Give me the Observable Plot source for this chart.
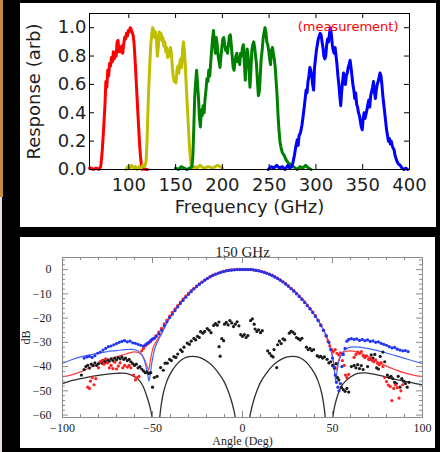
<!DOCTYPE html>
<html>
<head>
<meta charset="utf-8">
<script src="https://cdn.jsdelivr.net/npm/d3@7"></script>
<script src="https://cdn.jsdelivr.net/npm/@observablehq/plot@0.6"></script>
<style>
  html, body { margin: 0; padding: 0; background: #000; width: 440px; height: 452px; overflow: hidden; position: relative; }
  .panel { position: absolute; background: #fff; overflow: hidden; }
  #bands { left: 20px; top: 3px; width: 416px; height: 224px; }
  #beam { left: 20px; top: 237px; width: 415px; height: 211px; }
  #edge { position: absolute; left: 0; top: 0; width: 3px; height: 197px; background: #c88a3e; }
  #edge2 { position: absolute; left: 0; top: 197px; width: 2px; height: 255px; background: #eadede; }
  .panel svg { display: block; }
</style>
</head>
<body>
<div id="edge"></div>
<div id="edge2"></div>
<div class="panel" id="bands"></div>
<div class="panel" id="beam"></div>
<script>
// ---------- Band passes: [frequency GHz, normalised response] ----------
const band90 = [[58,0.01],[60,0.01],[62,0.0],[65,0.01],[68,0.0],[70,0.02],[71.5,0.12],[73,0.28],[74.5,0.45],[75.5,0.62],[76.5,0.58],[77.5,0.70],[78.5,0.66],[79.5,0.75],[80.5,0.73],[81.5,0.79],[82.5,0.76],[83.5,0.83],[84.5,0.78],[85.5,0.82],[86.5,0.80],[87.5,0.90],[88.5,0.91],[89.5,0.83],[90.5,0.86],[91.5,0.83],[92.5,0.87],[93.5,0.82],[94.5,0.88],[95.5,0.93],[96.5,0.92],[97.5,0.96],[98.5,0.94],[99.5,0.98],[100.5,0.97],[101.5,1.0],[102.5,0.99],[103.5,0.97],[104.5,0.95],[105.5,0.90],[106.5,0.80],[107.5,0.68],[108.5,0.55],[109.5,0.42],[110.5,0.30],[111.5,0.18],[112.5,0.09],[113.5,0.03],[114.5,0.0],[116,0.01],[118,0.0],[120,0.0]];
const band150 = [[97,0.0],[99,0.02],[101,0.01],[103,0.03],[105,0.01],[107,0.02],[109,0.0],[111,0.02],[113,0.01],[115,0.03],[117,0.02],[118.5,0.06],[119.5,0.2],[120.5,0.42],[121.5,0.6],[122.5,0.75],[123.5,0.88],[124.5,0.95],[125.5,1.0],[126.5,0.98],[127.5,0.93],[128.5,0.97],[129.5,0.92],[130.5,0.80],[131.5,0.86],[132.5,0.97],[133.5,0.92],[134.5,0.96],[135.5,0.91],[136.5,0.93],[137.5,0.87],[138.5,0.90],[139.5,0.83],[140.5,0.86],[141.5,0.79],[142.5,0.84],[143.5,0.80],[144.5,0.86],[145.5,0.82],[146.5,0.72],[147.5,0.66],[148.5,0.62],[149.5,0.64],[150.5,0.61],[151.5,0.70],[152.5,0.73],[153.5,0.68],[154.5,0.75],[155.5,0.78],[156.5,0.72],[157.5,0.85],[158.5,0.90],[159.5,0.83],[160.5,0.72],[161.5,0.58],[162.5,0.45],[163.5,0.33],[164.5,0.20],[165.5,0.10],[166.5,0.04],[167.5,0.01],[170,0.02],[173,0.01],[176,0.03],[180,0.01],[185,0.02],[190,0.01],[195,0.03],[200,0.01]];
const band220 = [[150,0.01],[153,0.0],[156,0.02],[159,0.01],[162,0.0],[165,0.01],[167.5,0.02],[168.5,0.1],[169.5,0.3],[170.5,0.52],[171.5,0.62],[172.5,0.70],[173.5,0.60],[174.5,0.50],[175.5,0.36],[176.5,0.30],[177.5,0.42],[178.5,0.38],[179.5,0.45],[180.5,0.40],[181.5,0.50],[182.5,0.56],[183.5,0.64],[184.5,0.62],[185.5,0.70],[186.5,0.66],[187.5,0.75],[188.5,0.84],[189.5,0.92],[190.5,0.98],[191.5,0.90],[192.5,0.82],[193.5,0.93],[194.5,0.88],[195.5,0.80],[196.5,0.76],[197.5,0.72],[198.5,0.80],[199.5,0.86],[200.5,0.92],[201.5,0.93],[202.5,0.88],[203.5,0.84],[204.5,0.86],[205.5,0.82],[206.5,0.88],[207.5,0.94],[208.5,0.95],[209.5,0.88],[210.5,0.80],[211.5,0.72],[212.5,0.70],[213.5,0.76],[214.5,0.80],[215.5,0.82],[216.5,0.76],[217.5,0.78],[218.5,0.74],[219.5,0.82],[220.5,0.80],[221.5,0.86],[222.5,0.88],[223.5,0.75],[224.5,0.63],[225.5,0.78],[226.5,0.85],[227.5,0.80],[228.5,0.70],[229.5,0.58],[230.5,0.70],[231.5,0.84],[232.5,0.88],[233.5,0.90],[234.5,0.86],[235.5,0.80],[236.5,0.74],[237.5,0.62],[238.5,0.52],[239.5,0.55],[240.5,0.66],[241.5,0.78],[242.5,0.84],[243.5,0.92],[244.5,0.96],[245.5,1.0],[246.5,0.97],[247.5,0.90],[248.5,0.88],[249.5,0.84],[250.5,0.78],[251.5,0.74],[252.5,0.84],[253.5,0.86],[254.5,0.82],[255.5,0.78],[256.5,0.72],[257.5,0.62],[258.5,0.52],[259.5,0.38],[260.5,0.28],[261.5,0.20],[262.5,0.16],[264,0.12],[266,0.10],[268,0.07],[270,0.05],[272,0.04],[274,0.02],[276,0.02],[278,0.01],[280,0.0],[283,0.02],[286,0.01],[289,0.03],[292,0.01],[295,0.0]];
const band350 = [[249,0.0],[252,0.02],[255,0.01],[258,0.03],[261,0.01],[264,0.02],[267,0.0],[270,0.03],[272,0.01],[274,0.02],[275.5,0.05],[277,0.10],[278.5,0.16],[280,0.21],[281,0.17],[282,0.24],[283.5,0.26],[285,0.31],[286,0.36],[287.5,0.44],[288.5,0.50],[289.5,0.56],[290.5,0.54],[291.5,0.62],[292.5,0.66],[293.5,0.72],[294.5,0.70],[295.5,0.66],[296.5,0.60],[297.5,0.56],[298.5,0.72],[299.5,0.78],[300.5,0.84],[301.5,0.88],[302.5,0.92],[303.5,0.94],[304.5,0.96],[305.5,0.95],[306.5,0.90],[307.5,0.86],[308.5,0.80],[309.5,0.78],[310.5,0.80],[311.5,0.88],[312.5,0.92],[313.5,0.90],[314.5,0.96],[315.5,1.0],[316.5,0.95],[317.5,0.88],[318.5,0.84],[319.5,0.82],[320.5,0.86],[321.5,0.80],[322.5,0.74],[323.5,0.66],[324.5,0.60],[325.5,0.52],[326.5,0.45],[327.5,0.55],[328.5,0.62],[329.5,0.68],[330.5,0.64],[331.5,0.60],[332.5,0.66],[333.5,0.68],[334.5,0.72],[335.5,0.74],[336.5,0.77],[337.5,0.72],[338.5,0.66],[339.5,0.60],[340.5,0.56],[341.5,0.50],[342.5,0.54],[343.5,0.46],[344.5,0.44],[345.5,0.40],[346.5,0.38],[347.5,0.34],[348.5,0.30],[349.5,0.28],[350.5,0.36],[351.5,0.40],[352.5,0.36],[353.5,0.39],[354.5,0.42],[355.5,0.46],[356.5,0.49],[357.5,0.44],[358.5,0.52],[359.5,0.55],[360.5,0.58],[361.5,0.62],[362.5,0.55],[363.5,0.50],[364.5,0.56],[365.5,0.60],[366.5,0.62],[367.5,0.65],[368.5,0.68],[369.5,0.66],[370.5,0.60],[371.5,0.52],[372.5,0.46],[373.5,0.40],[374.5,0.34],[375.5,0.28],[376.5,0.24],[377.5,0.20],[378.5,0.22],[379.5,0.18],[380.5,0.20],[381.5,0.17],[382.5,0.15],[383.5,0.14],[384.5,0.10],[385.5,0.08],[386.5,0.06],[388,0.04],[390,0.03],[392,0.01],[394,0.0],[396,0.01],[398,0.0]];
const freqTicks = [100, 150, 200, 250, 300, 350, 400];
const respTicks = [0.0, 0.2, 0.4, 0.6, 0.8, 1.0];

// ---------- 150 GHz beam: [angle deg, dB] ----------
const modelBlue = [[-100,-38.7],[-95,-37.2],[-90,-36],[-85,-35.2],[-80,-34.4],[-75,-33.8],[-70,-33.4],[-65,-33],[-61,-32.9],[-58,-33.6],[-56,-35],[-54.5,-37.5],[-53.5,-40.5],[-52.5,-44],[-52,-46],[-51.2,-43],[-50.5,-39],[-49.5,-35],[-48.5,-32],[-47,-29.5],[-45,-26.5],[-42,-22],[-40,-19.5],[-35,-14.3],[-30,-10],[-25,-6.6],[-20,-3.9],[-15,-2],[-10,-0.8],[-5,-0.2],[0,0],[5,-0.2],[10,-0.8],[15,-2],[20,-3.9],[25,-6.5],[30,-9.7],[35,-13.8],[40,-18.8],[43,-22.3],[45,-25],[47,-28.5],[48.5,-31.5],[49.5,-34.5],[50.5,-38.5],[51.3,-43],[51.8,-46],[52.5,-42],[53.5,-38],[55,-35],[57,-33],[60,-32],[65,-32],[70,-32.6],[75,-33.4],[80,-34.4],[85,-35.5],[90,-36.6],[95,-37.7],[100,-38.7]];
const modelRed = [[-100,-44.2],[-95,-43.4],[-90,-42.2],[-85,-40.5],[-80,-38.8],[-75,-37.2],[-70,-36],[-65,-34.8],[-61,-34],[-58,-34.2],[-56,-35.2],[-54.5,-37],[-53.2,-39.5],[-52.2,-41.4],[-51.3,-38],[-50.3,-34],[-49.3,-31.5],[-48,-29.8],[-46.5,-27.8],[-45,-26.2],[-42,-21.8],[-40,-19.3],[-35,-14.1],[-30,-9.9],[-25,-6.5],[-20,-3.8],[-15,-1.9],[-10,-0.8],[-5,-0.2],[0,0],[5,-0.2],[10,-0.8],[15,-1.9],[20,-3.8],[25,-6.4],[30,-9.6],[35,-13.6],[40,-18.5],[43,-22],[45,-24.8],[47,-28],[48.5,-31],[49.5,-33.8],[50.5,-37.5],[51.3,-40.5],[52,-41.4],[53,-38.5],[54.5,-35.5],[56.5,-34],[60,-33.5],[65,-34.3],[70,-36],[75,-38],[80,-39.8],[85,-41.3],[90,-42.6],[95,-43.5],[100,-44.2]];
const modelBlackOuterL = [[-100,-47],[-95,-45.8],[-90,-45],[-85,-44.2],[-80,-43.6],[-75,-43.1],[-70,-42.8],[-66,-42.7],[-62,-43.4],[-59,-44.6],[-57,-46],[-55,-48.5],[-53.5,-51.5],[-52,-55],[-51,-58],[-50.2,-61],[-49.7,-64]];
const modelBlackInnerL = [[-46.5,-64],[-46,-61],[-45.2,-56],[-44,-51],[-42,-46],[-40,-42.8],[-37,-39.5],[-34,-37.3],[-31,-36.1],[-28,-35.8],[-25,-36],[-22,-36.8],[-19,-38.2],[-16,-40.2],[-13,-43],[-10,-46.5],[-8,-50],[-6,-54.5],[-4.5,-59],[-3.8,-62],[-3.5,-64]];
const modelBlackInnerR = [[3.5,-64],[3.8,-62],[4.5,-59],[6,-54.5],[8,-50],[10,-46.5],[13,-43],[16,-40.2],[19,-38.2],[22,-36.8],[25,-36],[28,-35.8],[31,-36.1],[34,-37.3],[37,-39.5],[40,-42.8],[42,-46],[44,-51],[45.2,-56],[46,-61],[46.5,-64]];
const modelBlackOuterR = [[49.7,-64],[50.2,-61],[51,-57],[52,-54],[53.5,-50.5],[55,-48],[57,-46.2],[60,-44.3],[64,-42.8],[68,-42.6],[72,-43],[76,-43.6],[80,-44.3],[85,-45.3],[90,-46],[95,-46.8],[100,-47.5]];

const measBlue = [[-88,-36.5],[-86.5,-36],[-85,-35.8],[-83.5,-36.2],[-82,-35.5],[-80.5,-34.5],[-79,-34],[-77.5,-33.2],[-76,-32.5],[-74.5,-31.8],[-73,-31.5],[-71.5,-31],[-70,-30.5],[-68.5,-30],[-67,-29.6],[-65.5,-29.3],[-64,-29.8],[-62.5,-29.5],[-61,-30.2],[-59.5,-30.4],[-58,-30.8],[-56.5,-31.2],[-55,-31.5],[-54,-31],[-53,-30.4],[-52,-30],[-51,-29.2],[-50,-28.6],[-49,-28.3],[-48,-27.6],[-46.5,-26.5],[-45,-25],[-43.5,-23.2],[-42,-21.5],[-40.5,-19.8],[-39,-18.4],[-37.5,-16.9],[-36,-15.4],[-34.5,-14],[-33,-12.7],[-31.5,-11.4],[-30,-10.2],[-28.5,-9.1],[-27,-8],[-25.5,-7],[-24,-6.1],[-22.5,-5.2],[-21,-4.4],[-19.5,-3.7],[-18,-3],[-16.5,-2.4],[-15,-1.9],[-13.5,-1.5],[-12,-1.1],[-10.5,-0.8],[-9,-0.5],[-7.5,-0.3],[-6,-0.2],[-4.5,-0.1],[-3,0],[-1.5,0.1],[0,0],[1.5,0.1],[3,0],[4.5,0.1],[6,-0.1],[7.5,-0.3],[9,-0.5],[10.5,-0.8],[12,-1.1],[13.5,-1.5],[15,-2],[16.5,-2.5],[18,-3.1],[19.5,-3.7],[21,-4.4],[22.5,-5.1],[24,-6],[25.5,-6.9],[27,-7.9],[28.5,-8.9],[30,-10],[31.5,-11.1],[33,-12.3],[34.5,-13.6],[36,-14.9],[37.5,-16.2],[39,-17.7],[40.5,-19.3],[42,-21],[43.5,-23],[45,-25],[46.5,-27.2],[48,-30],[49,-33],[50,-36.5],[50.8,-40],[51.5,-43.5],[52.2,-46.5],[53,-48.5],[53.6,-50],[54.4,-47],[55.2,-40],[56,-35],[57,-32.5],[58,-29.5],[59,-28.8],[60.5,-28.5],[62,-28.8],[63.5,-28.6],[65,-29.2],[66.5,-28.8],[68,-29.3],[69.5,-29],[71,-29.6],[72.5,-29.4],[74,-30],[75.5,-29.8],[77,-30.4],[78.5,-30.8],[80,-31.2],[81.5,-31.8],[83,-32.3],[84.5,-32.1],[86,-32.8],[87.5,-33.2],[89,-33.5],[90.5,-33.4],[92,-33.8]];
const measRed = [[-86,-48.5],[-85,-49],[-84.5,-46],[-83.5,-44.5],[-82.5,-47.5],[-81.5,-45],[-80,-40.5],[-79,-38],[-78,-37.5],[-77,-39],[-76,-36.8],[-75,-38.5],[-74,-40.5],[-73,-39.5],[-72,-40.8],[-71,-38.2],[-70,-41],[-69,-39.8],[-68,-38.5],[-66.5,-40.5],[-65.5,-39.5],[-64,-40.2],[-63,-39.5],[-62,-40.5],[-60.5,-43.5],[-59.5,-45.5],[-58.5,-44.5],[-57.5,-44],[-56,-33.5],[-55,-32.5],[-54,-31.5],[-53,-30.8],[-52,-30.2],[-51,-29.6],[-50,-28.8],[-49,-28.2],[-48,-27.2],[-46.5,-25.8],[-45,-24.2],[-43.5,-22.4],[-42,-20.8],[-40.5,-19.2],[-39,-17.6],[-37.5,-16.2],[-36,-14.8],[-34.5,-13.4],[-33,-12.1],[-31.5,-10.9],[-30,-9.8],[-28.5,-8.7],[-27,-7.7],[-25.5,-6.8],[-24,-5.9],[-22.5,-5.1],[-21,-4.3],[-19.5,-3.6],[-18,-2.9],[-16.5,-2.3],[-15,-1.8],[-13.5,-1.4],[-12,-1],[-10.5,-0.7],[-9,-0.4],[-7.5,-0.2],[-6,-0.1],[-4.5,0],[-3,0.1],[-1.5,0],[0,0.1],[1.5,0],[3,0.1],[4.5,0],[6,-0.1],[7.5,-0.2],[9,-0.4],[10.5,-0.7],[12,-1],[13.5,-1.4],[15,-1.8],[16.5,-2.3],[18,-2.9],[19.5,-3.5],[21,-4.2],[22.5,-5],[24,-5.8],[25.5,-6.7],[27,-7.7],[28.5,-8.7],[30,-9.8],[31.5,-10.9],[33,-12.1],[34.5,-13.3],[36,-14.6],[37.5,-16],[39,-17.4],[40.5,-19],[42,-20.8],[43.5,-22.8],[45,-25],[46.5,-27.5],[47.5,-29.5],[48.5,-31.5],[49.5,-33],[50.5,-33.8],[51.5,-33],[52.5,-34.5],[53.5,-35.2],[54.5,-34.3],[55.5,-37.5],[56.5,-39.5],[57.2,-43.5],[58,-44.5],[59,-43.2],[62,-36.2],[63,-35],[64,-34],[65,-34.6],[66,-33.8],[67,-35.5],[68,-36.2],[69,-35.6],[70,-37],[71,-36.4],[72,-37.5],[73,-38],[74,-37.2],[75,-38.6],[76,-39.2],[77,-38.4],[78,-40],[79,-44.5],[80,-46.2],[81,-47.6],[82,-48.2],[83,-54],[84,-49],[85,-47.6],[86,-48.7],[87,-53],[88,-50],[89,-47.5]];
const measBlack = [[-89.5,-43.5],[-88,-41.2],[-87,-40],[-86,-39.5],[-85,-40.6],[-84,-39],[-83,-39.6],[-82,-38.5],[-81,-39.5],[-80,-38.8],[-79,-38],[-78,-38.6],[-77,-37.5],[-76,-38.2],[-75,-37.2],[-74,-37.8],[-73,-36.8],[-72,-37.5],[-71,-36.5],[-70,-37.2],[-69,-36.3],[-68,-36.8],[-67,-36],[-66,-37],[-65,-36.5],[-64,-37.5],[-63,-37],[-62,-38],[-61,-38.8],[-60,-39.5],[-59,-39],[-58,-40.5],[-57,-40],[-56,-41],[-55,-41.8],[-54,-42.5],[-53,-42.2],[-52,-42.8],[-51,-42.5],[-50,-48.5],[-49,-44.5],[-47.5,-44],[-45.5,-40.4],[-44,-41.5],[-43,-38.6],[-41.8,-38.6],[-40.5,-37],[-39.5,-37.5],[-38.1,-35.9],[-37,-36.2],[-36,-34.8],[-34.4,-33.1],[-33.5,-33.8],[-32.5,-32],[-30.7,-30.3],[-29.5,-30.8],[-28.5,-29.5],[-27,-28.4],[-26,-29],[-25,-27.5],[-24,-28],[-23.3,-25.6],[-22,-26.2],[-21,-25.5],[-19.6,-24.3],[-18.5,-25],[-17.5,-26],[-16,-23],[-15,-22.3],[-14,-22.9],[-13.1,-21.6],[-13,-31.8],[-12.4,-35.7],[-11.5,-28.5],[-10.5,-29.3],[-10,-22.5],[-9,-21.8],[-8,-22.8],[-7,-21],[-6,-22],[-5,-23.5],[-4,-22.5],[-3,-21.5],[-2,-23.2],[-1,-26.8],[0,-27.5],[1,-26.8],[2,-28],[3,-27.2],[4.5,-21],[5.5,-20.3],[6.5,-22.5],[7,-24.5],[8,-25.5],[9,-24.8],[10,-26],[11,-25.2],[14,-33.5],[15,-34.5],[16,-35.5],[17,-36],[17.5,-33],[19,-40.4],[19.5,-31],[20.5,-29.5],[21.5,-30.5],[22.5,-28.6],[23.5,-29],[26,-26.2],[27,-25.5],[28,-25.8],[29,-26.5],[30,-28],[31,-28.5],[32,-29],[33,-28.3],[35.5,-32],[36.5,-33],[37.5,-32.5],[38.5,-33.4],[39.5,-33],[41.5,-35.5],[42.5,-36],[43.5,-35.8],[44.5,-36.5],[45.5,-36],[47,-37],[48,-38.5],[49,-38],[50,-39.5],[51,-40.5],[52,-38.8],[52.8,-44.5],[53.5,-45.5],[55,-48.6],[56,-49.5],[57,-50.2],[58,-49],[59,-50.5],[60.5,-40],[62,-39.5],[63,-40.5],[64,-39.2],[65,-40.8],[66,-39.6],[67,-41.2],[68,-36],[69.5,-40],[70.5,-37],[71.5,-35.2],[72.5,-36.5],[73.5,-35],[74.5,-40.5],[75.5,-41],[76.5,-35.8],[78,-34],[79,-38],[80.5,-43.5],[81.5,-44.5],[82.5,-44],[83.5,-45],[84.5,-46.5],[85.5,-47],[86.5,-44],[87.5,-48.5],[88.5,-45],[89.5,-46],[90.5,-47],[91.5,-48.5],[92.5,-46.5]];
const angleTicks = [-100, -50, 0, 50, 100];
const angleMinor = [-90, -80, -70, -60, -40, -30, -20, -10, 10, 20, 30, 40, 60, 70, 80, 90];
const dbTicks = [-60, -50, -40, -30, -20, -10, 0];
const dbMinor = [-58, -56, -54, -52, -48, -46, -44, -42, -38, -36, -34, -32, -28, -26, -24, -22, -18, -16, -14, -12, -8, -6, -4, -2, 2, 4];

const X = d => d[0], Y = d => d[1];

// ---------- Top: band-pass response ----------
{
  const W = 416, H = 224, m = {top: 10, right: 27, bottom: 58, left: 69};
  const fw = W - m.left - m.right, fh = H - m.top - m.bottom, t = 5;
  const bandStyle = {x: X, y: Y, strokeWidth: 3, strokeLinejoin: "round"};
  const chart = Plot.plot({
    width: W, height: H,
    marginTop: m.top, marginRight: m.right, marginBottom: m.bottom, marginLeft: m.left,
    style: {background: "white", fontFamily: "'DejaVu Sans', sans-serif", fontSize: "18px", color: "#1e1e1e"},
    x: {domain: [58, 400]},
    y: {domain: [0, 1.1]},
    marks: [
      Plot.line(band90, {...bandStyle, stroke: "#ff0000"}),
      Plot.line(band150, {...bandStyle, stroke: "#bfbf00"}),
      Plot.line(band220, {...bandStyle, stroke: "#008000"}),
      Plot.line(band350, {...bandStyle, stroke: "#0000ff"}),
      Plot.frame({stroke: "#000", strokeWidth: 1}),
      Plot.tickX(freqTicks, {x: d => d, insetTop: fh - t, stroke: "#000"}),
      Plot.tickX(freqTicks, {x: d => d, insetBottom: fh - t, stroke: "#000"}),
      Plot.tickY(respTicks, {y: d => d, insetRight: fw - t, stroke: "#000"}),
      Plot.tickY(respTicks, {y: d => d, insetLeft: fw - t, stroke: "#000"}),
      Plot.axisX(freqTicks, {tickSize: 0, tickPadding: 9, label: null, fontSize: 18}),
      Plot.axisY(respTicks, {tickSize: 0, tickPadding: 3, label: null, fontSize: 18, tickFormat: d3.format(".1f")}),
      Plot.text(["Response (arb)"], {text: d => d, frameAnchor: "left", textAnchor: "middle", dx: -55, rotate: -90, fontSize: 18}),
      Plot.text(["Frequency (GHz)"], {text: d => d, frameAnchor: "bottom", textAnchor: "middle", dy: 43, fontSize: 18}),
      Plot.text(["(measurement)"], {text: d => d, frameAnchor: "top-right", textAnchor: "end", dx: -11, dy: 8, fontSize: 13, fill: "#ff0000"})
    ]
  });
  document.getElementById("bands").append(chart);
}

// ---------- Bottom: 150 GHz beam profile ----------
{
  const W = 415, H = 211, m = {top: 20, right: 13, bottom: 31, left: 42};
  const fw = W - m.left - m.right, fh = H - m.top - m.bottom;
  const major = 6, minor = 3, axisGrey = "#8c8c8c";
  const chart = Plot.plot({
    width: W, height: H,
    marginTop: m.top, marginRight: m.right, marginBottom: m.bottom, marginLeft: m.left,
    style: {background: "white", fontFamily: "'Liberation Serif', 'Times New Roman', serif", fontSize: "12px", color: "#1e1e1e"},
    x: {domain: [-100, 100]},
    y: {domain: [-61, 5]},
    marks: [
      ...[modelBlackOuterL, modelBlackInnerL, modelBlackInnerR, modelBlackOuterR].map(lobe =>
        Plot.line(lobe, {x: X, y: Y, stroke: "#303030", strokeWidth: 1.3, curve: "catmull-rom", clip: true})),
      Plot.line(modelRed, {x: X, y: Y, stroke: "#ff3b3b", strokeWidth: 1.2, curve: "catmull-rom", clip: true}),
      Plot.line(modelBlue, {x: X, y: Y, stroke: "#4466ff", strokeWidth: 1.2, curve: "catmull-rom", clip: true}),
      Plot.dot(measBlack, {x: X, y: Y, r: 1.6, fill: "#1a1a1a", stroke: null}),
      Plot.dot(measRed, {x: X, y: Y, r: 1.6, fill: "#ff2020", stroke: null}),
      Plot.dot(measBlue, {x: X, y: Y, r: 1.6, fill: "#1f35f0", stroke: null}),
      Plot.frame({stroke: axisGrey, strokeWidth: 1}),
      Plot.tickX(angleTicks, {x: d => d, insetTop: fh - major, stroke: axisGrey}),
      Plot.tickX(angleTicks, {x: d => d, insetBottom: fh - major, stroke: axisGrey}),
      Plot.tickX(angleMinor, {x: d => d, insetTop: fh - minor, stroke: axisGrey}),
      Plot.tickX(angleMinor, {x: d => d, insetBottom: fh - minor, stroke: axisGrey}),
      Plot.tickY(dbTicks, {y: d => d, insetRight: fw - major, stroke: axisGrey}),
      Plot.tickY(dbTicks, {y: d => d, insetLeft: fw - major, stroke: axisGrey}),
      Plot.tickY(dbMinor, {y: d => d, insetRight: fw - minor, stroke: axisGrey}),
      Plot.tickY(dbMinor, {y: d => d, insetLeft: fw - minor, stroke: axisGrey}),
      Plot.axisX(angleTicks, {tickSize: 0, tickPadding: 5.5, label: null, fontSize: 12}),
      Plot.axisY(dbTicks, {tickSize: 0, tickPadding: 11, label: null, fontSize: 12}),
      Plot.text(["150 GHz"], {text: d => d, frameAnchor: "top", textAnchor: "middle", dy: -11.5, fontSize: 15}),
      Plot.text(["dB"], {text: d => d, frameAnchor: "left", textAnchor: "middle", dx: -36, rotate: -90, fontSize: 12}),
      Plot.text(["Angle (Deg)"], {text: d => d, frameAnchor: "bottom", textAnchor: "middle", dy: 27.5, fontSize: 12})
    ]
  });
  document.getElementById("beam").append(chart);
}
</script>
</body>
</html>
